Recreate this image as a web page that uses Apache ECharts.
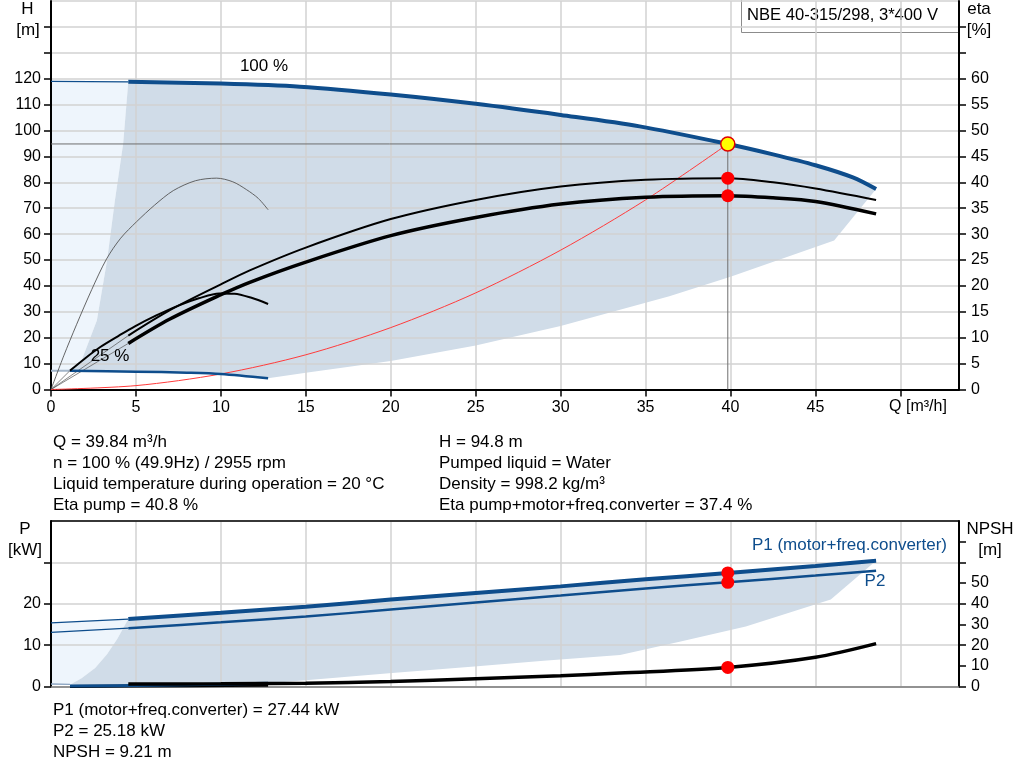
<!DOCTYPE html>
<html><head><meta charset="utf-8">
<script src="https://cdn.jsdelivr.net/npm/echarts@6/dist/echarts.min.js"></script>
<style>html,body{margin:0;padding:0;background:#fff}#c{width:1024px;height:781px}</style>
</head><body><div id="c"></div>
<script>
// ---------- data ----------
const h100 = [[4.55,118.8],[10,118.1],[14.65,116.9],[20,113.9],[25,110.3],[30,106.0],[34.65,101.6],[39.84,94.8],[42.5,90.8],[45,86.6],[47.2,81.9],[48.57,77.4]];
const h100Ext = [[0,119.0],[4.55,118.8]];
const h25 = [[1.12,7.2],[5,6.9],[8,6.5],[10,6.0],[12.78,4.3]];
const h25Ext = [[0,7.2],[1.12,7.2]];
const etaPump100 = [[4.55,10.4],[7,15.3],[10,20.3],[11.7,23.0],[15,27.4],[20,32.9],[25,36.6],[30,39.2],[35,40.5],[39.84,40.8],[42.5,40.0],[45,38.8],[48.57,36.6]];
const etaTot100 = [[4.55,8.9],[7,13.6],[10,18.3],[11.7,20.7],[15,24.6],[20,29.7],[25,33.2],[30,35.8],[35,37.1],[39.84,37.4],[42.5,37.0],[45,36.3],[48.57,33.9]];
const etaPump25 = [[0,0],[0.75,6.5],[1.5,12.5],[2.4,19.3],[3.27,25.2],[4.1,29.2],[5.04,32.4],[6.1,35.6],[7.2,38.4],[8.5,40.3],[9.75,40.8],[10.7,40.1],[11.5,38.6],[12.2,36.9],[12.78,34.7]];
const etaTot25 = [[1.12,3.65],[2.0,6.0],[2.88,8.15],[4.0,10.4],[4.94,12.2],[6.2,14.3],[7.5,16.2],[8.7,17.6],[9.9,18.55],[10.8,18.5],[11.8,17.7],[12.78,16.5]];
const etaExtA = [[0,0],[4.55,10.4]];
const etaExtB = [[0,0],[4.55,8.9]];
const etaExtC = [[0,0],[1.12,3.65]];
const systemCurve = [[0,0],[5,1.5],[10,6.0],[15,13.4],[20,23.9],[25,37.3],[30,53.8],[35,73.2],[39.84,94.8]];
const topLeftEdge = [[1.12,7.2],[1.8,11.2],[2.7,26.6],[3.3,49.8],[3.76,72.9],[4.25,95],[4.55,118.8]];
const topDarkLower = [[46.1,57.5],[40,43.5],[36.4,36.0],[30,24.5],[25,17.0],[20,11.0],[15,6.5],[12.78,4.3]];

const p1 = [[4.55,16.3],[10,17.8],[15,19.3],[20,21.0],[25,22.6],[30,24.2],[35,25.9],[39.84,27.44],[45,29.1],[48.57,30.4]];
const p2 = [[4.55,14.1],[10,15.5],[15,16.9],[20,18.6],[25,20.3],[30,22.0],[35,23.7],[39.84,25.18],[45,26.8],[48.57,28.0]];
const p1Ext = [[0,15.4],[4.55,16.3]];
const p2Ext = [[0,13.1],[4.55,14.1]];
const p25 = [[1.12,0.1],[6,0.3],[12.78,0.8]];
const p25Ext = [[0,0.6],[1.12,0.5]];
const npsh = [[4.55,1.2],[10,1.3],[15,1.6],[20,2.4],[25,3.8],[30,5.2],[33.47,6.5],[39.84,9.21],[45,14.1],[48.57,20.7]];
const npsh25 = [[1.12,0],[4.55,0.2],[12.78,0.6]];
const lowLeftEdge = [[1.12,0.4],[1.8,2.0],[2.6,4.5],[3.3,7.8],[3.9,11.5],[4.55,16.3]];
const lowDarkLower = [[45.9,21.0],[40.9,14.5],[37,10.8],[33.5,7.6],[29,6.2],[25.1,4.9],[19.9,3.2],[15,1.5],[12.78,0.8]];

const duty = {q:39.84, h:94.8, etaPump:40.8, etaTot:37.4, p1:27.44, p2:25.18, npsh:9.21};

const textLeft1 = ['Q = 39.84 m³/h','n = 100 % (49.9Hz) / 2955 rpm','Liquid temperature during operation = 20 °C','Eta pump = 40.8 %'];
const textRight1 = ['H = 94.8 m','Pumped liquid = Water','Density = 998.2 kg/m³','Eta pump+motor+freq.converter = 37.4 %'];
const textLeft2 = ['P1 (motor+freq.converter) = 27.44 kW','P2 = 25.18 kW','NPSH = 9.21 m'];

// ---------- styles ----------
const FONT = '"Liberation Sans", Arial, sans-serif';
const BLUE = '#0e4d8c';
const GRIDC = '#d2d2d2';

const topLight = [[0,7.2],...topLeftEdge,[0,119.0]];
const topDark = [...topLeftEdge, ...h100.slice(1), ...topDarkLower, ...h25.slice().reverse()];
const lowLight = [[0,0.6],...lowLeftEdge,[0,15.4]];
const lowDark = [...lowLeftEdge, ...p1.slice(1), ...lowDarkLower, ...p25.slice().reverse()];

function poly(pts, color, xi, yi){
  return {type:'custom', coordinateSystem:'cartesian2d', xAxisIndex:xi, yAxisIndex:yi, z:1, silent:true,
    data:[[0,0]],
    renderItem:function(params, api){
      return {type:'polygon', shape:{points: pts.map(p=>api.coord(p))}, style:{fill:color}};
    }};
}
function line(data, color, width, xi, yi, smooth){
  return {type:'line', data:data, xAxisIndex:xi, yAxisIndex:yi, symbol:'none', showSymbol:false,
    smooth: smooth ? 0.3 : false,
    lineStyle:{color:color, width:width}, z:5, silent:true, animation:false};
}
function dot(pt, xi, yi, fill, border, size){
  return {type:'scatter', data:[pt], xAxisIndex:xi, yAxisIndex:yi, symbol:'circle', symbolSize:size,
    itemStyle:{color:fill, borderColor:border, borderWidth:border?1.5:0, opacity:1}, z:9, silent:true, animation:false};
}

const axisLbl = {fontFamily:FONT, fontSize:16, color:'#000'};
function yAx(grid, pos, max, step, lastLbl, split, margin){
  return {type:'value', gridIndex:grid, position:pos, min:0, max:max, interval:step, z:3,
    axisLine:{show:true, onZero:false, lineStyle:{color:'#000', width:2}},
    axisTick:{show:true, length:7, lineStyle:{color:'#000', width:1.5}},
    axisLabel:Object.assign({margin:margin, showMaxLabel:false, formatter:v=> v<=lastLbl ? String(v) : ''}, axisLbl),
    splitLine:{show:split, lineStyle:{color:GRIDC, width:1.5}}};
}

const txt = [];
function T(s, x, y, align, size, color){
  txt.push({type:'text', silent:true, z:100, style:{text:s, x:x, y:y, textAlign:align||'left', textVerticalAlign:'middle',
    font: (size||17)+'px '+FONT, fill:color||'#000'}});
}
textLeft1.forEach((s,i)=>T(s,53,442+i*21));
textRight1.forEach((s,i)=>T(s,439,442+i*21));
textLeft2.forEach((s,i)=>T(s,53,710+i*21));
T('H',27.5,9,'center'); T('[m]',28,30,'center');
T('eta',979,9,'center'); T('[%]',979,30,'center');
T('P',25,529,'center'); T('[kW]',25,550,'center');
T('NPSH',990,529,'center'); T('[m]',990,550,'center');
T('100 %',264,66,'center');
T('25 %',110,356,'center');
T('Q [m³/h]',918,407,'center',16);
T('P1 (motor+freq.converter)',947,545,'right',17,BLUE);
T('P2',875,581,'center',17,BLUE);
const boxEl = {type:'group', z:90, children:[
  {type:'rect', silent:true, shape:{x:741.5, y:-1, width:217, height:33.5}, style:{fill:'#fff', stroke:'#8c8c8c', lineWidth:1}},
  {type:'text', silent:true, style:{text:'NBE 40-315/298, 3*400 V', x:747, y:15, textVerticalAlign:'middle', font:'16.6px '+FONT, fill:'#000'}}
]};

const chart = echarts.init(document.getElementById('c'), null, {renderer:'canvas'});
chart.setOption({
  animation:false,
  backgroundColor:'#fff',
  grid:[{left:51, right:65, top:1, bottom:391.5},{left:51, right:65, top:521, bottom:94.5}],
  xAxis:[
    {type:'value', gridIndex:0, min:0, max:53.45, interval:5, z:3,
     axisLine:{onZero:false, lineStyle:{color:'#000', width:2}},
     axisTick:{length:7, lineStyle:{color:'#000', width:1.5}},
     axisLabel:Object.assign({margin:10, showMaxLabel:false, formatter:v=> v<=45 ? String(v) : ''}, axisLbl),
     splitLine:{show:true, lineStyle:{color:GRIDC, width:1.5}}},
    {type:'value', gridIndex:1, min:0, max:53.45, interval:5, z:3,
     axisLine:{onZero:false, lineStyle:{color:'#7a7a7a', width:1.5}},
     axisTick:{show:false}, axisLabel:{show:false},
     splitLine:{show:true, lineStyle:{color:GRIDC, width:1.5}}},
    {type:'value', gridIndex:1, position:'top', min:0, max:53.45, z:3,
     axisLine:{onZero:false, lineStyle:{color:'#000', width:1.5}},
     axisTick:{show:false}, axisLabel:{show:false}, splitLine:{show:false}}
  ],
  yAxis:[
    yAx(0,'left',150,10,120,true,10),
    yAx(0,'right',75,5,60,false,12),
    yAx(1,'left',40,10,20,true,10),
    yAx(1,'right',80,10,50,false,12)
  ],
  graphic:{elements:[...txt, boxEl]},
  series:[
    poly(topLight,'#eef5fc',0,0),
    poly(topDark,'#d0dce8',0,0),
    line(h100Ext, BLUE, 1.3, 0,0,false),
    line(h25Ext, '#a3b6ca', 2, 0,0,false),
    line(etaExtA, '#555', 0.7, 0,1,false),
    line(etaExtB, '#555', 0.7, 0,1,false),
    line(etaExtC, '#555', 0.7, 0,1,false),
    line(etaPump25, '#555', 0.9, 0,1,true),
    line(systemCurve, '#ff3b3b', 1, 0,0,true),
    line([[0,duty.h],[duty.q,duty.h]], '#6e6e6e', 1, 0,0,false),
    line([[duty.q,duty.h],[duty.q,0]], '#6e6e6e', 1, 0,0,false),
    line(h25, BLUE, 2.5, 0,0,true),
    line(h100, BLUE, 4, 0,0,true),
    line(etaTot25, '#000', 2, 0,1,true),
    line(etaPump100, '#000', 2, 0,1,true),
    line(etaTot100, '#000', 3.5, 0,1,true),
    dot([duty.q,duty.h],0,0,'#ffff00','#e00000',14),
    dot([duty.q,duty.etaPump],0,1,'#ff0000',null,13),
    dot([duty.q,duty.etaTot],0,1,'#ff0000',null,13),

    poly(lowLight,'#eef5fc',1,2),
    poly(lowDark,'#d0dce8',1,2),
    line(p1Ext, BLUE, 1.3, 1,2,false),
    line(p2Ext, BLUE, 1.3, 1,2,false),
    line(p25Ext, '#8aa3c0', 1.3, 1,2,false),
    line(npsh25, '#000', 3, 1,3,true),
    line(p25, BLUE, 3, 1,2,true),
    line(npsh, '#000', 3.5, 1,3,true),
    line(p2, BLUE, 2.5, 1,2,true),
    line(p1, BLUE, 4, 1,2,true),
    dot([duty.q,duty.p1],1,2,'#ff0000',null,13),
    dot([duty.q,duty.p2],1,2,'#ff0000',null,13),
    dot([duty.q,duty.npsh],1,3,'#ff0000',null,13)
  ]
});
</script></body></html>
